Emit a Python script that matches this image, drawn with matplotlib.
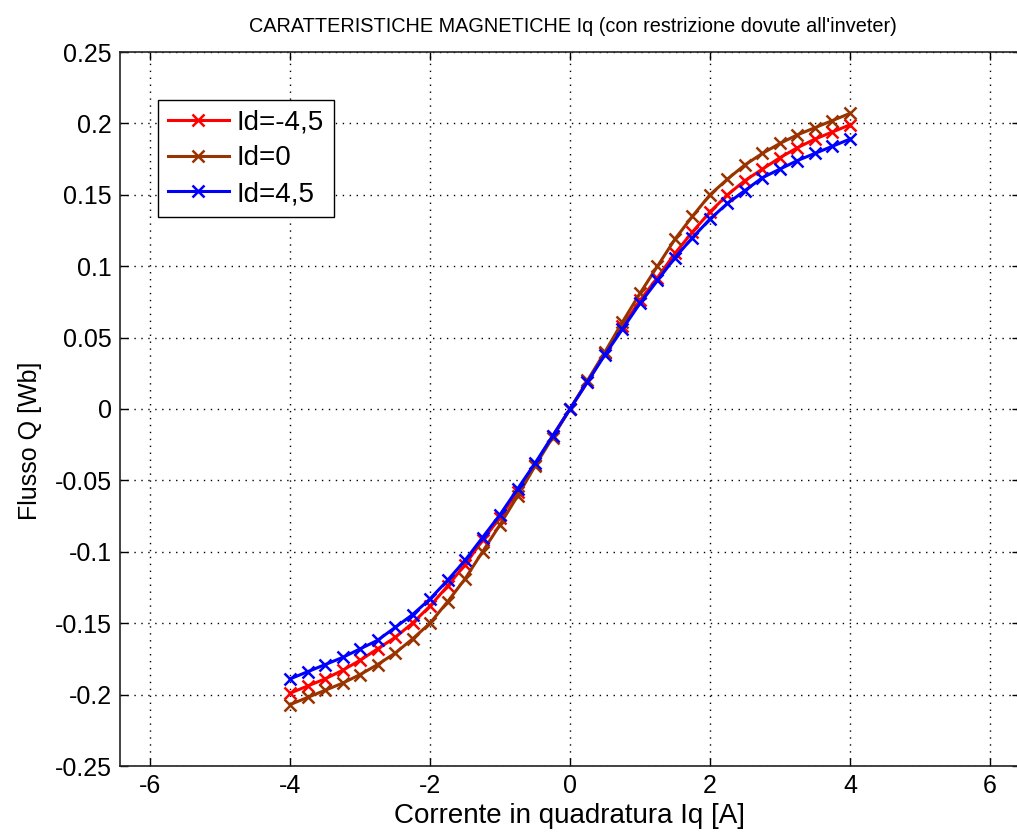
import matplotlib
matplotlib.use("Agg")
import matplotlib.pyplot as plt
import numpy as np

iq = [-4.0, -3.75, -3.5, -3.25, -3.0, -2.75, -2.5, -2.25, -2.0, -1.75, -1.5, -1.25, -1.0, -0.75, -0.5, -0.25,
      0.0, 0.25, 0.5, 0.75, 1.0, 1.25, 1.5, 1.75, 2.0, 2.25, 2.5, 2.75, 3.0, 3.25, 3.5, 3.75, 4.0]

flux_id_m45 = [-0.199, -0.194, -0.189, -0.183, -0.176, -0.168, -0.160, -0.150, -0.138, -0.124, -0.109, -0.092,
               -0.076, -0.058, -0.039, -0.019, 0.0, 0.019, 0.039, 0.058, 0.076, 0.092, 0.109, 0.124,
               0.138, 0.150, 0.160, 0.168, 0.176, 0.183, 0.189, 0.194, 0.199]
flux_id_0 = [-0.207, -0.202, -0.197, -0.192, -0.186, -0.179, -0.171, -0.161, -0.150, -0.135, -0.119, -0.100,
             -0.081, -0.061, -0.040, -0.020, 0.0, 0.020, 0.040, 0.061, 0.081, 0.100, 0.119, 0.135,
             0.150, 0.161, 0.171, 0.179, 0.186, 0.192, 0.197, 0.202, 0.207]
flux_id_p45 = [-0.189, -0.184, -0.179, -0.174, -0.168, -0.162, -0.153, -0.144, -0.133, -0.120, -0.106, -0.090,
               -0.074, -0.056, -0.038, -0.019, 0.0, 0.019, 0.038, 0.056, 0.074, 0.090, 0.106, 0.120,
               0.133, 0.144, 0.153, 0.162, 0.168, 0.174, 0.179, 0.184, 0.189]

labels = ["Id=-4,5", "Id=0", "Id=4,5"]
colors = ["#ff0000", "#993300", "#0000ff"]

xticks = [-6, -4, -2, 0, 2, 4, 6]
yticks = [-0.25, -0.2, -0.15, -0.1, -0.05, 0, 0.05, 0.1, 0.15, 0.2, 0.25]
ytick_labels = ["-0.25", "-0.2", "-0.15", "-0.1", "-0.05", "0", "0.05", "0.1", "0.15", "0.2", "0.25"]

plt.rcParams['font.family'] = ['Liberation Sans', 'DejaVu Sans']

W, H = 1017, 832
fig = plt.figure(figsize=(W / 100, H / 100), dpi=100)
ax = fig.add_axes([120 / W, 1 - 766 / H, 900 / W, 714 / H])

for y, lab, c in zip([flux_id_m45, flux_id_0, flux_id_p45], labels, colors):
    ax.plot(iq, y, color=c, marker='x', markersize=8, markeredgewidth=1.8, linewidth=2.2, label=lab)

ax.set_xlim(-6.43, 6.43)
ax.set_ylim(-0.25, 0.25)
ax.set_xticks(xticks)
ax.set_xticklabels([str(t) for t in xticks])
ax.set_yticks(yticks)
ax.set_yticklabels(ytick_labels)
ax.grid(True, linestyle=(0, (1, 4)), color='black', linewidth=1.0)
ax.tick_params(direction='in', top=True, right=True, labelsize=18, length=6, width=1)
ax.tick_params(axis='y', pad=6)
ax.tick_params(axis='x', pad=6)
for s in ax.spines.values():
    s.set_linewidth(1.2)
    s.set_color('#222222')

ax.set_xlabel("Corrente in quadratura Iq [A]", fontsize=20, labelpad=3.5)
ax.set_ylabel("Flusso Q [Wb]", fontsize=18)
ax.yaxis.set_label_coords(-0.087, 0.455)
fig.text(573 / W, 1 - 27 / H, "CARATTERISTICHE MAGNETICHE Iq (con restrizione dovute all'inveter)",
         ha='center', va='center', fontsize=14.3)

leg = ax.legend(loc='upper left', bbox_to_anchor=(0.042, 0.933), fontsize=20, frameon=True,
                fancybox=False, edgecolor='black', framealpha=1, borderpad=0.35,
                handlelength=2.2, handletextpad=0.3, labelspacing=0.35, borderaxespad=0)
leg.get_frame().set_linewidth(1.0)

fig.savefig("out.png", dpi=100)
